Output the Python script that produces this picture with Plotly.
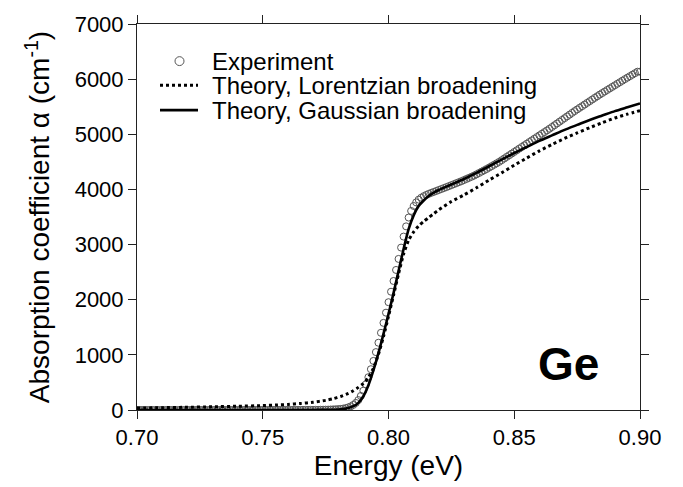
import plotly.graph_objects as go

# Measured absorption of Ge (0.001 eV steps from 0.700 to 0.900 eV)
exp_energy = [round(0.700 + 0.001 * i, 3) for i in range(201)]
exp_alpha = [
    0, 0, 0, 0, 0, 0, 0, 0, 0, 0,
    0, 0, 0, 0, 0, 0, 0, 0, 0, 0,
    0, 0, 0, 0, 0, 0, 0, 0, 0, 0,
    0, 0, 0, 0, 0, 0, 0, 0, 0, 0,
    0, 0, 0, 0, 0, 0, 0, 0, 0, 0,
    0, 0, 0, 1, 1, 1, 1, 1, 1, 1,
    1, 1, 1, 1, 1, 2, 2, 2, 2, 2,
    2, 3, 3, 4, 5, 6, 7, 9, 11, 13,
    16, 20, 26, 35, 48, 66, 92, 128, 180, 255,
    350, 465, 595, 740, 890, 1050, 1220, 1400, 1580, 1765,
    1955, 2145, 2340, 2540, 2740, 2945, 3145, 3330, 3490, 3610,
    3700, 3765, 3815, 3850, 3878, 3900, 3920, 3938, 3955, 3972,
    3990, 4007, 4025, 4042, 4060, 4078, 4096, 4114, 4132, 4150,
    4170, 4190, 4210, 4230, 4250, 4274, 4298, 4322, 4346, 4370,
    4396, 4422, 4448, 4474, 4500, 4530, 4560, 4590, 4620, 4650,
    4680, 4710, 4740, 4770, 4800, 4830, 4860, 4890, 4920, 4950,
    4980, 5010, 5040, 5070, 5100, 5132, 5164, 5196, 5228, 5260,
    5292, 5324, 5356, 5388, 5420, 5450, 5480, 5510, 5540, 5570,
    5600, 5630, 5660, 5690, 5720, 5748, 5776, 5804, 5832, 5860,
    5888, 5916, 5944, 5972, 6000, 6027, 6054, 6081, 6108, 6135,
    6135,
]
exp_alpha = exp_alpha[:len(exp_energy)]

# Theory with Gaussian broadening
gauss_energy = [
    0.700, 0.720, 0.740, 0.760, 0.770, 0.775, 0.780, 0.783, 0.786, 0.788,
    0.790, 0.792, 0.794, 0.796, 0.798, 0.800, 0.802, 0.804, 0.806, 0.808,
    0.810, 0.812, 0.814, 0.816, 0.818, 0.820, 0.825, 0.830, 0.835, 0.840,
    0.845, 0.850, 0.855, 0.860, 0.865, 0.870, 0.875, 0.880, 0.885, 0.890,
    0.895, 0.900,
]
gauss_alpha = [
    0, 0, 0, 0, 1, 3, 10, 25, 70, 130,
    250, 450, 720, 1030, 1380, 1740, 2120, 2520, 2920, 3280,
    3530, 3700, 3800, 3880, 3940, 3990, 4090, 4190, 4300, 4420,
    4540, 4660, 4770, 4880, 4980, 5080, 5170, 5260, 5340, 5420,
    5490, 5560,
]

# Theory with Lorentzian broadening
lor_energy = [
    0.700, 0.710, 0.720, 0.730, 0.740, 0.750, 0.755, 0.760, 0.765, 0.770,
    0.775, 0.778, 0.781, 0.784, 0.786, 0.788, 0.790, 0.792, 0.794, 0.796,
    0.798, 0.800, 0.802, 0.804, 0.806, 0.808, 0.810, 0.812, 0.814, 0.816,
    0.818, 0.820, 0.825, 0.830, 0.835, 0.840, 0.845, 0.850, 0.855, 0.860,
    0.865, 0.870, 0.875, 0.880, 0.885, 0.890, 0.895, 0.900,
]
lor_alpha = [
    35, 42, 50, 58, 68, 80, 90, 100, 118, 140,
    175, 205, 245, 300, 350, 410, 480, 590, 760, 1010,
    1330, 1700, 2080, 2470, 2830, 3080, 3230, 3340, 3420, 3490,
    3560, 3630, 3780, 3900, 4030, 4170, 4300, 4440, 4570, 4700,
    4815, 4925, 5025, 5120, 5210, 5295, 5365, 5430,
]

x_ticks = [0.70, 0.75, 0.80, 0.85, 0.90]
x_tick_text = ["0.70", "0.75", "0.80", "0.85", "0.90"]
y_ticks = [0, 1000, 2000, 3000, 4000, 5000, 6000, 7000]

legend_labels = ["Experiment", "Theory, Lorentzian broadening", "Theory, Gaussian broadening"]

FONT = "Liberation Sans, Arial, Helvetica, sans-serif"
MARKER_COLOR = "#555555"

# plot-area geometry in pixels, used to place the hand-built legend
W, H = 683, 487
ML, MR, MT, MB = 137, 43, 20, 77
PW, PH = W - ML - MR, H - MT - MB


def px_to_paper(px, py):
    return (px - ML) / PW, (H - MB - py) / PH


fig = go.Figure()
fig.add_trace(go.Scatter(
    x=exp_energy, y=exp_alpha, mode="markers", name=legend_labels[0],
    marker=dict(symbol="circle-open", size=7, color=MARKER_COLOR, line=dict(width=1)),
    showlegend=False,
))
fig.add_trace(go.Scatter(
    x=lor_energy, y=lor_alpha, mode="lines", name=legend_labels[1],
    line=dict(color="black", width=3, dash="3px,3px", shape="spline", smoothing=0.6),
    showlegend=False,
))
fig.add_trace(go.Scatter(
    x=gauss_energy, y=gauss_alpha, mode="lines", name=legend_labels[2],
    line=dict(color="black", width=2.6, shape="spline", smoothing=0.6),
    showlegend=False,
))

axis_common = dict(
    showgrid=False, zeroline=False, showline=True, mirror="ticks",
    linecolor="#222222", linewidth=1, ticks="outside", ticklen=8,
    tickcolor="#222222", tickwidth=1,
    tickfont=dict(family=FONT, size=22, color="black"),
)

fig.update_layout(
    width=W, height=H,
    margin=dict(l=ML, r=MR, t=MT, b=MB),
    paper_bgcolor="white", plot_bgcolor="white",
    font=dict(family=FONT, color="black"),
    xaxis=dict(
        range=[0.70, 0.90], tickvals=x_ticks, ticktext=x_tick_text,
        title=dict(text="Energy (eV)", font=dict(family=FONT, size=28), standoff=5),
        **axis_common,
    ),
    yaxis=dict(
        range=[0, 7000], tickvals=y_ticks,
        title=dict(text="Absorption coefficient α (cm<sup>-1</sup>)",
                   font=dict(family=FONT, size=28), standoff=16),
        **axis_common,
    ),
    showlegend=False,
)

# legend: sample marks and labels
rows_y = [57.5, 82, 107]
text_x = 210
sample_x0, sample_x1 = 160, 198

cx, cy = px_to_paper(179.5, rows_y[0])
rx, ry = 4.5 / PW, 4.5 / PH
fig.add_shape(type="circle", xref="paper", yref="paper",
              x0=cx - rx, x1=cx + rx, y0=cy - ry, y1=cy + ry,
              line=dict(color=MARKER_COLOR, width=1))

for row, dash, width in [(1, "3px,3px", 3), (2, "solid", 2.6)]:
    x0, y0 = px_to_paper(sample_x0, rows_y[row])
    x1, _ = px_to_paper(sample_x1, rows_y[row])
    fig.add_shape(type="line", xref="paper", yref="paper",
                  x0=x0, x1=x1, y0=y0, y1=y0,
                  line=dict(color="black", width=width, dash=dash))

for label, ry_px in zip(legend_labels, rows_y):
    tx, ty = px_to_paper(text_x, ry_px)
    fig.add_annotation(
        text=label, x=tx, y=ty, xref="paper", yref="paper",
        xanchor="left", yanchor="middle", showarrow=False,
        font=dict(family=FONT, size=24, color="black"),
    )

fig.add_annotation(
    text="<b>Ge</b>", x=0.857, y=0.118, xref="paper", yref="paper",
    xanchor="center", yanchor="middle", showarrow=False,
    font=dict(family=FONT, size=46, color="black"),
)

fig.write_html("out.html")
